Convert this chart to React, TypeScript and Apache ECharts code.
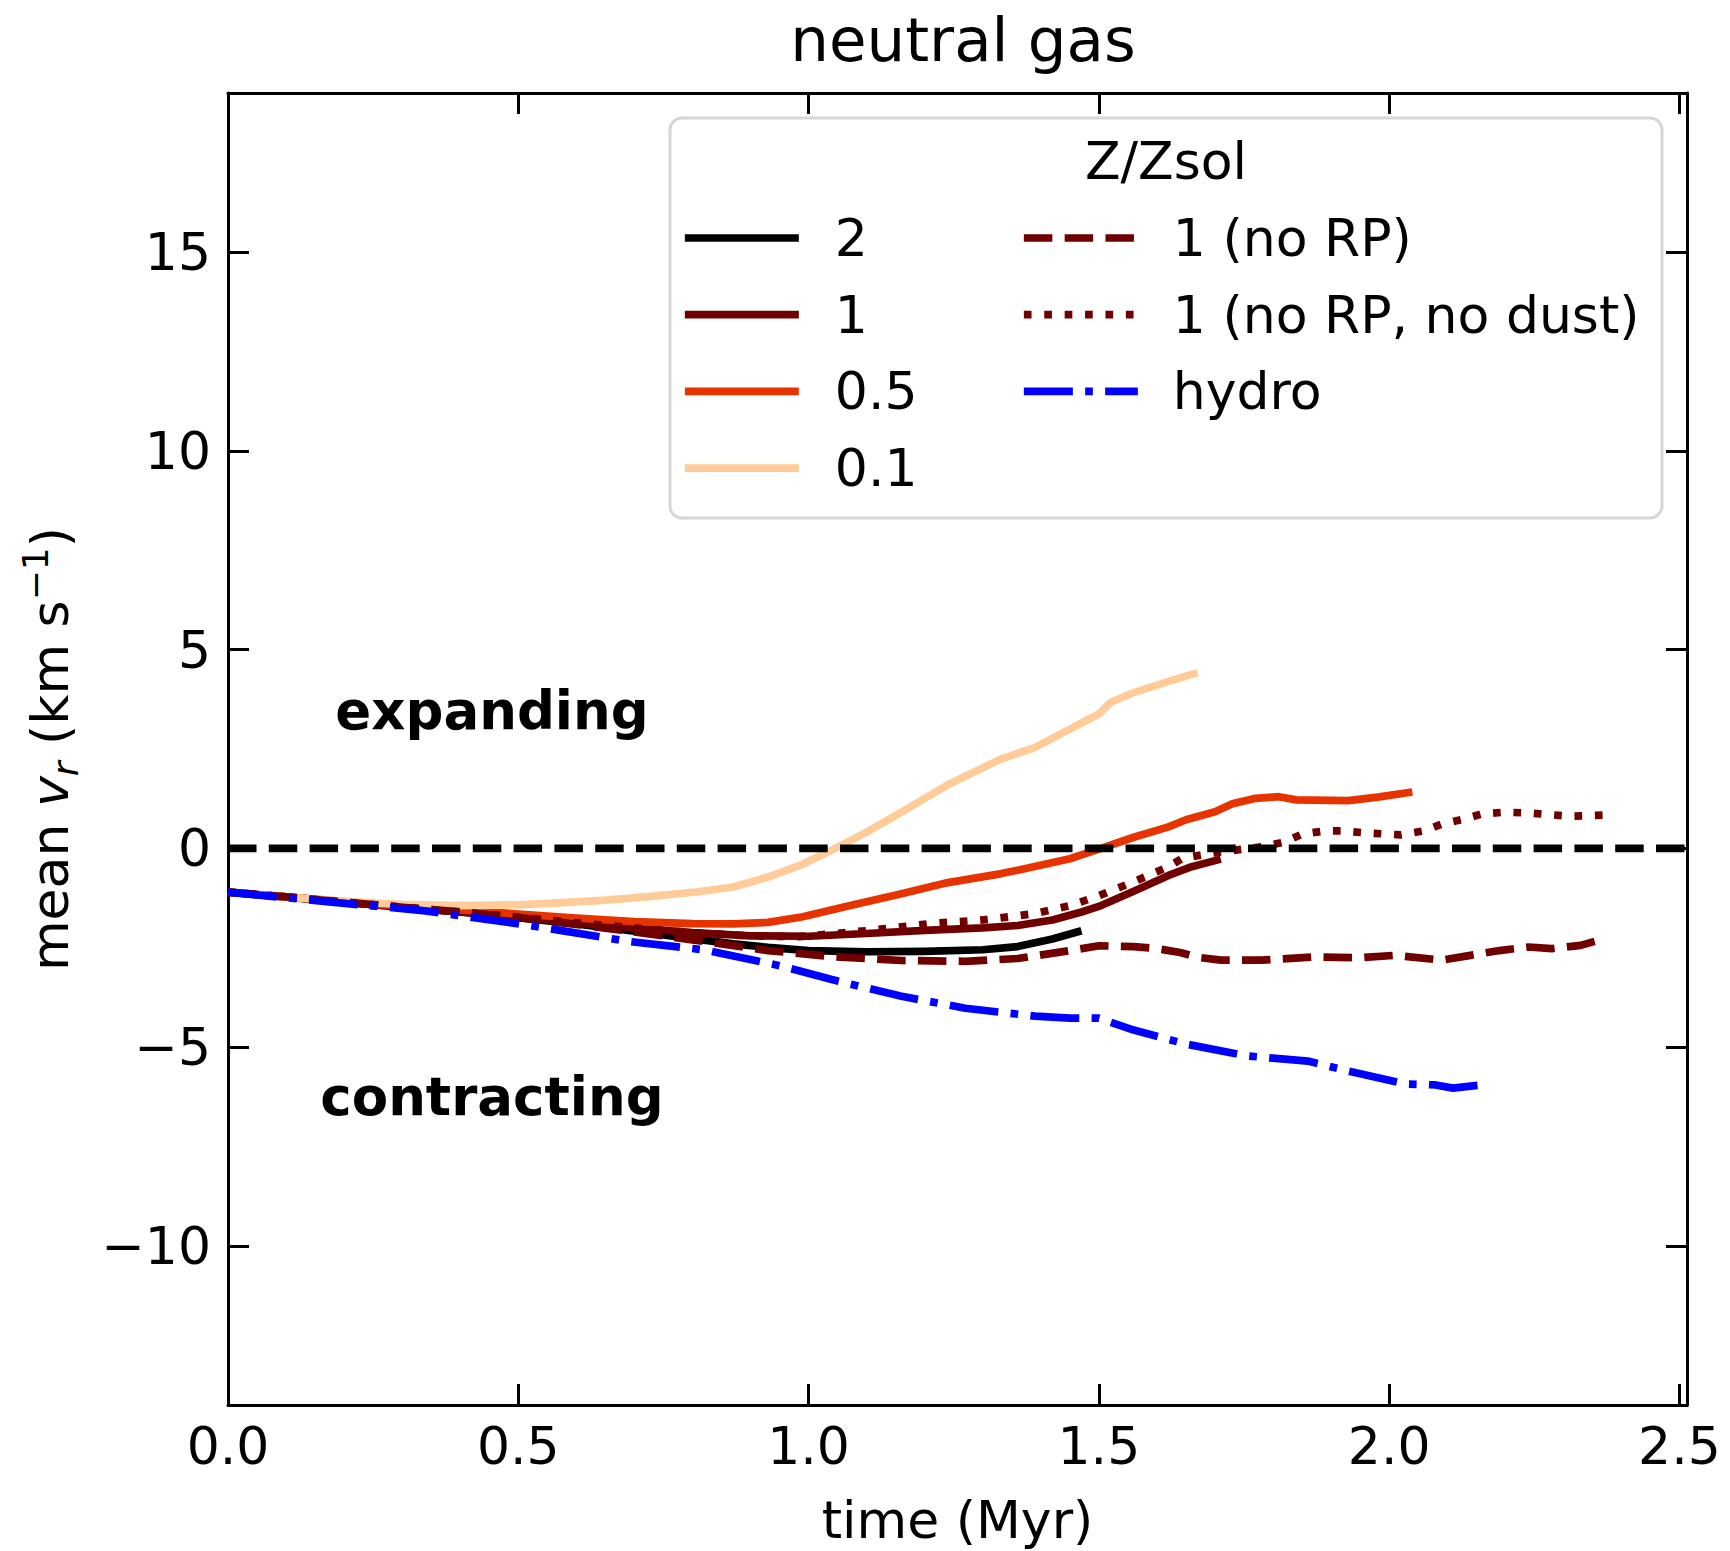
import React, { useEffect, useRef } from "react";
import * as echarts from "echarts";

// ---------- data (time in Myr, mean v_r in km/s) ----------
const tZ2 = [0, 0.1, 0.2, 0.3, 0.4, 0.5, 0.6, 0.7, 0.8, 0.87, 0.93, 1.0, 1.1, 1.2, 1.3, 1.36, 1.42, 1.47];
const vZ2 = [-1.1, -1.22, -1.35, -1.48, -1.6, -1.74, -1.9, -2.08, -2.27, -2.4, -2.49, -2.57, -2.6, -2.59, -2.55, -2.47, -2.28, -2.07];

const tZ1 = [0, 0.1, 0.2, 0.3, 0.4, 0.5, 0.6, 0.7, 0.8, 0.9, 1.0, 1.1, 1.2, 1.3, 1.36, 1.42, 1.47, 1.5, 1.56, 1.62, 1.66, 1.71];
const vZ1 = [-1.1, -1.22, -1.35, -1.48, -1.6, -1.73, -1.87, -2.0, -2.12, -2.2, -2.21, -2.14, -2.06, -2.0, -1.94, -1.8, -1.6, -1.46, -1.08, -0.68, -0.46, -0.27];

const tZ05 = [0, 0.1, 0.2, 0.3, 0.4, 0.5, 0.6, 0.7, 0.8, 0.87, 0.93, 0.99, 1.07, 1.16, 1.24, 1.33, 1.37, 1.45, 1.5, 1.56, 1.62, 1.65, 1.7, 1.73, 1.77, 1.81, 1.84, 1.93, 1.98, 2.04];
const vZ05 = [-1.1, -1.22, -1.34, -1.45, -1.55, -1.65, -1.75, -1.84, -1.89, -1.9, -1.86, -1.72, -1.44, -1.14, -0.86, -0.64, -0.52, -0.26, -0.02, 0.28, 0.54, 0.72, 0.92, 1.12, 1.26, 1.3, 1.22, 1.2, 1.29, 1.42];

const tZ01 = [0, 0.1, 0.2, 0.3, 0.4, 0.5, 0.57, 0.65, 0.72, 0.81, 0.87, 0.93, 0.985, 1.05, 1.1, 1.16, 1.24, 1.33, 1.39, 1.45, 1.5, 1.52, 1.56, 1.62, 1.67];
const vZ01 = [-1.1, -1.22, -1.33, -1.41, -1.44, -1.42, -1.37, -1.3, -1.22, -1.09, -0.97, -0.72, -0.43, 0.03, 0.41, 0.91, 1.6, 2.24, 2.54, 3.0, 3.38, 3.67, 3.92, 4.2, 4.42];

const tNoRP = [0, 0.1, 0.2, 0.3, 0.4, 0.5, 0.6, 0.7, 0.8, 0.85, 0.93, 1.04, 1.16, 1.27, 1.36, 1.45, 1.5, 1.56, 1.6, 1.64, 1.67, 1.71, 1.78, 1.87, 1.95, 2.01, 2.09, 2.14, 2.19, 2.24, 2.28, 2.33, 2.37];
const vNoRP = [-1.1, -1.22, -1.35, -1.48, -1.6, -1.74, -1.91, -2.1, -2.3, -2.4, -2.57, -2.72, -2.82, -2.84, -2.77, -2.57, -2.45, -2.47, -2.52, -2.62, -2.74, -2.81, -2.81, -2.73, -2.75, -2.69, -2.81, -2.69, -2.57, -2.48, -2.52, -2.44, -2.27];

const tNoDust = [0, 0.1, 0.2, 0.3, 0.4, 0.5, 0.6, 0.7, 0.8, 0.9, 0.985, 1.1, 1.21, 1.3, 1.39, 1.45, 1.5, 1.56, 1.62, 1.645, 1.71, 1.78, 1.82, 1.85, 1.89, 1.92, 1.96, 2.02, 2.06, 2.09, 2.13, 2.16, 2.2, 2.24, 2.31, 2.38];
const vNoDust = [-1.1, -1.22, -1.35, -1.48, -1.6, -1.73, -1.87, -2.0, -2.12, -2.2, -2.22, -2.07, -1.89, -1.8, -1.64, -1.44, -1.19, -0.84, -0.46, -0.24, -0.09, 0.04, 0.16, 0.36, 0.44, 0.44, 0.39, 0.34, 0.44, 0.61, 0.74, 0.87, 0.91, 0.89, 0.81, 0.84];

const tHydro = [0, 0.17, 0.34, 0.52, 0.69, 0.82, 0.95, 1.04, 1.16, 1.27, 1.39, 1.45, 1.5, 1.56, 1.65, 1.755, 1.86, 1.93, 2.03, 2.08, 2.11, 2.16];
const vHydro = [-1.1, -1.34, -1.57, -1.94, -2.34, -2.55, -2.95, -3.3, -3.72, -4.02, -4.22, -4.27, -4.27, -4.57, -4.92, -5.22, -5.35, -5.6, -5.93, -5.95, -6.03, -5.95];

const zeroLineX = [0, 2.513];

const xTicks = [0, 0.5, 1.0, 1.5, 2.0, 2.5];
const yTicks = [-10, -5, 0, 5, 10, 15];
const xRange = [0, 2.513];
const yRange = [-14, 19];

const legendLeftNames = ["2", "1", "0.5", "0.1"];
const legendRightNames = ["1 (no RP)", "1 (no RP, no dust)", "hydro"];

const FONT = "DejaVu Sans";
const LW = 7.7;

function pairs(t: number[], v: number[]) {
  return t.map((x, i) => [x, v[i]]);
}

function lineSeries(name: string, t: number[], v: number[], color: string, type: any, z: number) {
  return {
    name,
    type: "line",
    data: pairs(t, v),
    symbol: "none",
    showSymbol: false,
    silent: true,
    clip: true,
    z,
    itemStyle: { color },
    lineStyle: { color, width: LW, type, cap: "butt", join: "round" },
  };
}

const fmtY = (v: number) => (v < 0 ? "\u2212" + Math.abs(v) : String(v));

function legendBlock(left: number, names: string[], textPad: number) {
  return {
    orient: "vertical",
    left,
    top: 212,
    padding: 0,
    itemGap: 24.7,
    itemWidth: 114,
    itemHeight: 14,
    selectedMode: false,
    data: names,
    itemStyle: { opacity: 0 },
    lineStyle: { width: LW, cap: "butt" },
    textStyle: { fontFamily: FONT, fontSize: 52, color: "#000", lineHeight: 52, padding: [0, 0, 0, textPad] },
  };
}

export default function App() {
  const ref = useRef<HTMLDivElement>(null);
  useEffect(() => {
    const chart = echarts.init(ref.current!, null, { renderer: "svg" });
    const axisLine = { show: true, onZero: false, lineStyle: { color: "#000", width: 3 } };
    const tick = (vals: number[]) => ({
      show: true,
      inside: true,
      length: 21,
      customValues: vals,
      lineStyle: { color: "#000", width: 3 },
    });
    const option: any = {
      animation: false,
      backgroundColor: "#fff",
      title: {
        text: "neutral gas",
        left: 958,
        top: 4,
        textAlign: "center",
        textStyle: { fontFamily: FONT, fontSize: 61, fontWeight: "normal", color: "#000" },
      },
      grid: { left: 228, top: 93, right: 43, bottom: 141, containLabel: false },
      xAxis: [
        {
          type: "value",
          position: "bottom",
          min: xRange[0],
          max: xRange[1],
          axisLine,
          axisTick: tick(xTicks),
          splitLine: { show: false },
          axisLabel: {
            customValues: xTicks,
            formatter: (v: number) => v.toFixed(1),
            fontFamily: FONT,
            fontSize: 52,
            color: "#000",
            margin: 15,
          },
          name: "time (Myr)",
          nameLocation: "middle",
          nameGap: 89,
          nameTextStyle: { fontFamily: FONT, fontSize: 52, color: "#000" },
        },
        {
          type: "value",
          position: "top",
          min: xRange[0],
          max: xRange[1],
          axisLine,
          axisTick: tick(xTicks),
          splitLine: { show: false },
          axisLabel: { show: false },
        },
      ],
      yAxis: [
        {
          type: "value",
          position: "left",
          min: yRange[0],
          max: yRange[1],
          axisLine,
          axisTick: tick(yTicks),
          splitLine: { show: false },
          axisLabel: {
            customValues: yTicks,
            formatter: fmtY,
            fontFamily: FONT,
            fontSize: 52,
            color: "#000",
            margin: 17,
          },
          name: "mean {i|v}{sub|r} (km s{sup|\u22121})",
          nameLocation: "middle",
          nameRotate: 90,
          nameGap: 145,
          nameTextStyle: {
            fontFamily: FONT,
            fontSize: 52,
            color: "#000",
            lineHeight: 66,
            rich: {
              i: { fontFamily: FONT, fontSize: 52, fontStyle: "italic", color: "#000", lineHeight: 66 },
              sub: { fontFamily: FONT, fontSize: 36, fontStyle: "italic", color: "#000", lineHeight: 36, verticalAlign: "bottom" },
              sup: { fontFamily: FONT, fontSize: 36, color: "#000", lineHeight: 36, verticalAlign: "top" },
            },
          },
        },
        {
          type: "value",
          position: "right",
          min: yRange[0],
          max: yRange[1],
          axisLine,
          axisTick: tick(yTicks),
          splitLine: { show: false },
          axisLabel: { show: false },
        },
      ],
      legend: [legendBlock(681, legendLeftNames, 31), legendBlock(1020, legendRightNames, 30)],
      graphic: [
        {
          type: "rect",
          z: 3,
          shape: { x: 670, y: 118, width: 992, height: 400, r: 12 },
          style: { fill: "rgba(255,255,255,0.8)", stroke: "#d6d6d6", lineWidth: 3 },
        },
        {
          type: "text",
          z: 5,
          x: 1166,
          y: 161,
          style: {
            text: "Z/Zsol",
            font: `52px "${FONT}"`,
            fill: "#000",
            textAlign: "center",
            textVerticalAlign: "middle",
          },
        },
        {
          type: "text",
          z: 5,
          x: 492,
          y: 710,
          style: {
            text: "expanding",
            font: `bold 53px "${FONT}"`,
            fill: "#000",
            textAlign: "center",
            textVerticalAlign: "middle",
          },
        },
        {
          type: "text",
          z: 5,
          x: 492,
          y: 1096,
          style: {
            text: "contracting",
            font: `bold 53px "${FONT}"`,
            fill: "#000",
            textAlign: "center",
            textVerticalAlign: "middle",
          },
        },
      ],
      series: [
        lineSeries("2", tZ2, vZ2, "#000000", "solid", 2),
        lineSeries("1", tZ1, vZ1, "#700000", "solid", 2),
        lineSeries("0.5", tZ05, vZ05, "#e63300", "solid", 2),
        lineSeries("0.1", tZ01, vZ01, "#ffcc99", "solid", 2),
        lineSeries("1 (no RP)", tNoRP, vNoRP, "#700000", [28.5, 12.3], 2),
        lineSeries("1 (no RP, no dust)", tNoDust, vNoDust, "#700000", [7.7, 12.7], 2),
        lineSeries("hydro", tHydro, vHydro, "#0000ff", [49, 12.3, 7.7, 12.3], 2),
        {
          name: "zero",
          type: "line",
          data: zeroLineX.map((x) => [x, 0]),
          symbol: "none",
          silent: true,
          z: 2,
          lineStyle: { color: "#000", width: LW, type: [28.5, 12.3], cap: "butt" },
          itemStyle: { color: "#000" },
        },
      ],
    };
    chart.setOption(option);
    return () => chart.dispose();
  }, []);
  return (
    <div
      ref={ref}
      style={{ position: "absolute", left: 0, top: 0, width: 1730, height: 1551, background: "#fff" }}
    />
  );
}
